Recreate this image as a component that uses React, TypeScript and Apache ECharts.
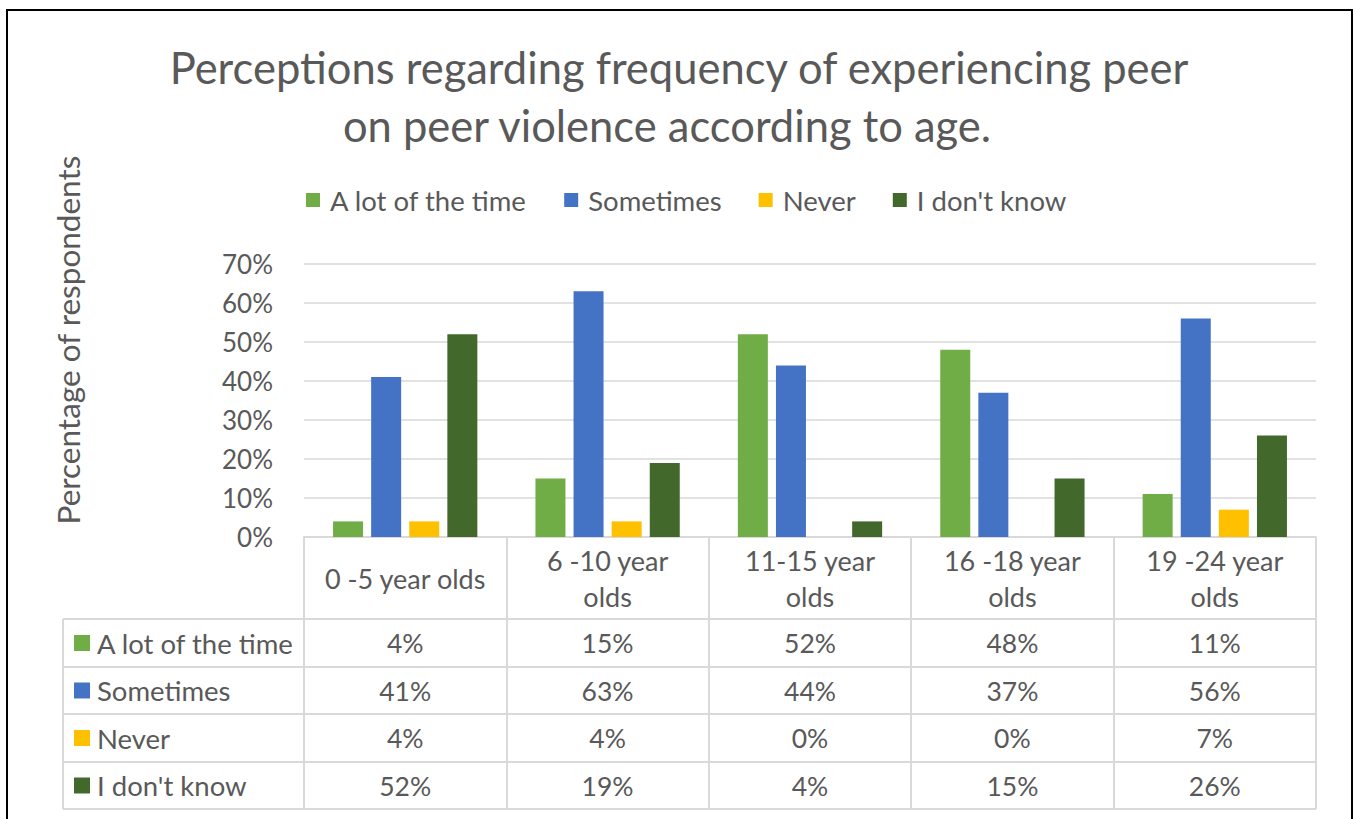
import React, { useEffect, useRef } from 'react';
import * as echarts from 'echarts';

const titleLines = ['Perceptions regarding frequency of experiencing peer', 'on peer violence according to age.'];
const yAxisName = 'Percentage of respondents';
const categories = ['0 -5 year olds', '6 -10 year olds', '11-15 year olds', '16 -18 year olds', '19 -24 year olds'];
const seriesNames = ['A lot of the time', 'Sometimes', 'Never', "I don't know"];
const aLotOfTheTime = [4, 15, 52, 48, 11];
const sometimes = [41, 63, 44, 37, 56];
const never = [4, 4, 0, 0, 7];
const dontKnow = [52, 19, 4, 15, 26];
const seriesColors = ['#70AD47', '#4472C4', '#FFC000', '#43682B'];
const yMin = 0;
const yMax = 70;
const yStep = 10;

const FONT = 'Lato, "Noto Sans", sans-serif';
const TXT = '#595959';
const LINE = '#D9D9D9';

export default function App() {
  const ref = useRef<HTMLDivElement>(null);
  useEffect(() => {
    if (!ref.current) return;
    const chart = echarts.init(ref.current, null, { renderer: 'svg' });
    const values = [aLotOfTheTime, sometimes, never, dontKnow];

    const gridLeft = 304;
    const gridRight = 1316;
    const gridTop = 264;
    const gridBottom = 537;
    const tableLeft = 63;
    const rowLines = [619, 667, 714, 762, 809];
    const rowCenters = rowLines.slice(0, 4).map((y, i) => (y + rowLines[i + 1]) / 2);

    const graphics: any[] = [
      {
        type: 'rect',
        shape: { x: 7, y: 10, width: 1345, height: 840 },
        style: { fill: 'none', stroke: '#000', lineWidth: 2 },
        silent: true,
      },
      {
        type: 'text',
        x: 68,
        y: 340,
        rotation: Math.PI / 2,
        style: {
          text: yAxisName,
          fill: TXT,
          font: `31.5px ${FONT}`,
          align: 'center',
          verticalAlign: 'middle',
        },
      },
      {
        type: 'line',
        shape: { x1: tableLeft, y1: rowLines[0], x2: tableLeft, y2: rowLines[4] },
        style: { stroke: LINE, lineWidth: 2 },
      },
    ];
    rowLines.forEach((y) => {
      graphics.push({
        type: 'line',
        shape: { x1: tableLeft, y1: y, x2: gridRight, y2: y },
        style: { stroke: LINE, lineWidth: 2 },
      });
    });
    seriesNames.forEach((name, i) => {
      graphics.push({
        type: 'rect',
        shape: { x: 74, y: rowCenters[i] - 8, width: 16, height: 16 },
        style: { fill: seriesColors[i] },
      });
      graphics.push({
        type: 'text',
        x: 97,
        y: rowCenters[i],
        style: {
          text: name,
          fill: TXT,
          font: `27.5px ${FONT}`,
          align: 'left',
          verticalAlign: 'middle',
        },
      });
    });

    const baseXAxis = {
      type: 'category',
      data: categories,
      gridIndex: 0,
      position: 'bottom',
      boundaryGap: true,
    };

    const xAxes: any[] = [
      {
        ...baseXAxis,
        axisLine: { show: true, lineStyle: { color: LINE, width: 2 } },
        axisTick: { show: true, length: rowLines[4] - gridBottom, lineStyle: { color: LINE, width: 2 } },
        axisLabel: {
          color: TXT,
          fontFamily: FONT,
          fontSize: 27,
          lineHeight: 36,
          margin: 41,
          verticalAlign: 'middle',
          interval: 0,
          formatter: (v: string) => (v.length > 14 ? v.replace(' olds', '\nolds') : v),
        },
      },
    ];
    values.forEach((arr, i) => {
      xAxes.push({
        ...baseXAxis,
        axisLine: { show: false },
        axisTick: { show: false },
        splitLine: { show: false },
        axisLabel: {
          color: TXT,
          fontFamily: FONT,
          fontSize: 26.5,
          margin: rowCenters[i] - gridBottom,
          verticalAlign: 'middle',
          interval: 0,
          formatter: (_v: string, idx: number) => `${arr[idx]}%`,
        },
      });
    });

    const titleStyle = {
      color: TXT,
      fontFamily: FONT,
      fontSize: 43.5,
      fontWeight: 'normal',
    };

    chart.setOption({
      animation: false,
      title: [
        { text: titleLines[0], left: 679, top: 67, padding: 0, textAlign: 'center', textVerticalAlign: 'middle', textStyle: titleStyle },
        { text: titleLines[1], left: 667, top: 125, padding: 0, textAlign: 'center', textVerticalAlign: 'middle', textStyle: titleStyle },
      ],
      legend: {
        data: seriesNames,
        top: 186,
        left: 306,
        icon: 'rect',
        itemWidth: 14,
        itemHeight: 14,
        itemGap: 37,
        padding: 0,
        textStyle: { color: TXT, fontFamily: FONT, fontSize: 27.5, padding: [0, 0, 0, 5] },
      },
      grid: {
        left: gridLeft,
        right: 1355 - gridRight,
        top: gridTop,
        bottom: 819 - gridBottom,
        containLabel: false,
      },
      xAxis: xAxes,
      yAxis: {
        type: 'value',
        min: yMin,
        max: yMax,
        interval: yStep,
        axisLine: { show: false },
        axisTick: { show: false },
        splitLine: { lineStyle: { color: LINE, width: 1.5 } },
        axisLabel: {
          color: TXT,
          fontFamily: FONT,
          fontSize: 26,
          margin: 31,
          formatter: '{value}%',
        },
      },
      series: seriesNames.map((name, i) => ({
        name,
        type: 'bar',
        xAxisIndex: 0,
        data: values[i],
        barWidth: 30,
        barGap: '27%',
        itemStyle: { color: seriesColors[i] },
      })),
      graphic: graphics,
    });

    return () => chart.dispose();
  }, []);

  return (
    <div
      ref={ref}
      style={{ position: 'fixed', left: 0, top: 0, width: 1355, height: 819, background: '#fff' }}
    />
  );
}
